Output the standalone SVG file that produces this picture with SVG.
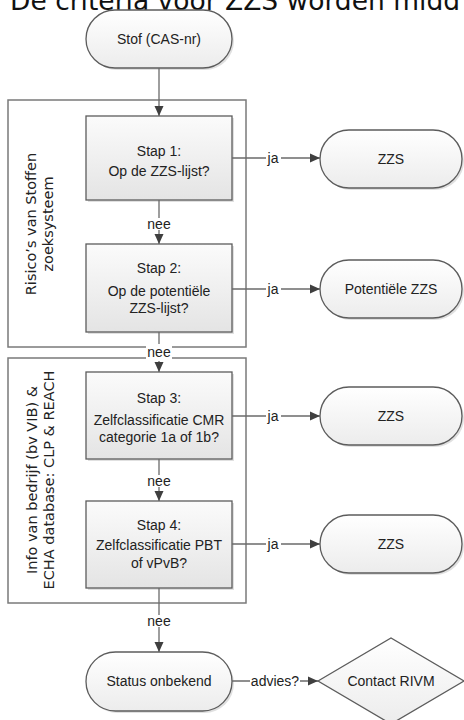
<svg xmlns="http://www.w3.org/2000/svg" width="464" height="720" viewBox="0 0 464 720">
<defs>
<linearGradient id="gBox" x1="0" y1="0" x2="0" y2="1">
<stop offset="0" stop-color="#fbfbfb"/>
<stop offset="1" stop-color="#e4e4e4"/>
</linearGradient>
<linearGradient id="gPill" x1="0" y1="0" x2="0" y2="1">
<stop offset="0" stop-color="#ffffff"/>
<stop offset="1" stop-color="#ececec"/>
</linearGradient>
<marker id="arr" markerUnits="userSpaceOnUse" markerWidth="10" markerHeight="10" viewBox="0 0 10 10" refX="10" refY="5" orient="auto">
<path d="M0,0.5 L10,5 L0,9.5 Z" fill="#3f3f3f"/>
</marker>
</defs>
<style>
.title{font-family:"DejaVu Sans",Verdana,sans-serif;font-size:26.5px;fill:#111}
.grp{fill:#ffffff;stroke:#7a7a7a;stroke-width:1.5}
.glab{font-family:"DejaVu Sans",Verdana,sans-serif;font-size:14.5px;fill:#222;text-anchor:middle}
.box{fill:url(#gBox);stroke:#5c5c5c;stroke-width:1.3}
.pill{fill:url(#gPill);stroke:#5c5c5c;stroke-width:1.3}
.shd{fill:#000;opacity:0.12}
.t{font-family:"Liberation Sans",Arial,sans-serif;font-size:14px;fill:#222;text-anchor:middle}
.lab{font-family:"Liberation Sans",Arial,sans-serif;font-size:14px;fill:#222;text-anchor:middle}
.ln{fill:none;stroke:#6a6a6a;stroke-width:1.3;marker-end:url(#arr)}
.bg{fill:#ffffff}
</style>

<text class="title" x="10" y="10">De criteria voor ZZS worden midd</text>

<g id="group-rvs">
<rect class="grp" x="8" y="100" width="238" height="247"/>
<text class="glab" transform="translate(36,224) rotate(-90)">Risico’s van Stoffen</text>
<text class="glab" transform="translate(53,224) rotate(-90)">zoeksysteem</text>
</g>
<g id="group-info">
<rect class="grp" x="8" y="358" width="238" height="245"/>
<text class="glab" transform="translate(37,480) rotate(-90)">Info van bedrijf (bv VIB) &amp;</text>
<text class="glab" transform="translate(54,480) rotate(-90)">ECHA database: CLP &amp; REACH</text>
</g>

<g id="start">
<rect class="shd" x="88" y="12" width="146" height="58" rx="29"/>
<rect class="pill" x="86" y="10" width="146" height="58" rx="29"/>
<text class="t" x="159" y="44">Stof (CAS-nr)</text>
</g>

<g id="stap1">
<rect class="shd" x="88" y="118" width="146" height="84"/>
<rect class="box" x="86" y="116" width="146" height="84"/>
<text class="t" x="159" y="156">Stap 1:</text>
<text class="t" x="159" y="176">Op de ZZS-lijst?</text>
</g>

<g id="stap2">
<rect class="shd" x="88" y="246" width="146" height="88"/>
<rect class="box" x="86" y="244" width="146" height="88"/>
<text class="t" x="159" y="273">Stap 2:</text>
<text class="t" x="159" y="296">Op de potentiële</text>
<text class="t" x="159" y="313">ZZS-lijst?</text>
</g>

<g id="stap3">
<rect class="shd" x="88" y="374" width="146" height="87"/>
<rect class="box" x="86" y="372" width="146" height="87"/>
<text class="t" x="159" y="403">Stap 3:</text>
<text class="t" x="159" y="425">Zelfclassificatie CMR</text>
<text class="t" x="159" y="442">categorie 1a of 1b?</text>
</g>

<g id="stap4">
<rect class="shd" x="88" y="503" width="146" height="87"/>
<rect class="box" x="86" y="501" width="146" height="87"/>
<text class="t" x="159" y="530">Stap 4:</text>
<text class="t" x="159" y="550">Zelfclassificatie PBT</text>
<text class="t" x="159" y="568">of vPvB?</text>
</g>

<g id="zzs1">
<rect class="shd" x="322" y="132" width="142" height="58" rx="29"/>
<rect class="pill" x="320" y="130" width="142" height="58" rx="29"/>
<text class="t" x="391" y="164">ZZS</text>
</g>

<g id="pot-zzs">
<rect class="shd" x="322" y="262" width="142" height="58" rx="29"/>
<rect class="pill" x="320" y="260" width="142" height="58" rx="29"/>
<text class="t" x="391" y="294">Potentiële ZZS</text>
</g>

<g id="zzs3">
<rect class="shd" x="322" y="389" width="142" height="58" rx="29"/>
<rect class="pill" x="320" y="387" width="142" height="58" rx="29"/>
<text class="t" x="391" y="421">ZZS</text>
</g>

<g id="zzs4">
<rect class="shd" x="322" y="517" width="142" height="58" rx="29"/>
<rect class="pill" x="320" y="515" width="142" height="58" rx="29"/>
<text class="t" x="391" y="549">ZZS</text>
</g>

<g id="status">
<rect class="shd" x="88" y="654" width="146" height="59" rx="29.5"/>
<rect class="pill" x="86" y="652" width="146" height="59" rx="29.5"/>
<text class="t" x="159" y="686">Status onbekend</text>
</g>

<g id="contact">
<path class="pill" d="M318,681 L391,638 L464,681 L391,724 Z"/>
<text class="t" x="391" y="686">Contact RIVM</text>
</g>

<g id="connectors">
<path class="ln" d="M159,68 L159,116"/>
<path class="ln" d="M232,158 L320,158"/>
<path class="ln" d="M159,200 L159,244"/>
<path class="ln" d="M232,289 L320,289"/>
<path class="ln" d="M159,332 L159,372"/>
<path class="ln" d="M232,416 L320,416"/>
<path class="ln" d="M159,459 L159,501"/>
<path class="ln" d="M232,544 L320,544"/>
<path class="ln" d="M159,588 L159,652"/>
<path class="ln" d="M232,681 L318,681"/>
<rect class="bg" x="266" y="151" width="15" height="8"/>
<text class="lab" x="273" y="163">ja</text>
<rect class="bg" x="266" y="282" width="15" height="8"/>
<text class="lab" x="273" y="294">ja</text>
<rect class="bg" x="266" y="409" width="15" height="8"/>
<text class="lab" x="273" y="421">ja</text>
<rect class="bg" x="266" y="537" width="15" height="8"/>
<text class="lab" x="273" y="549">ja</text>
<rect class="bg" x="146" y="218" width="26" height="12"/>
<text class="lab" x="159" y="229">nee</text>
<rect class="bg" x="146" y="344" width="26" height="17"/>
<text class="lab" x="159" y="357">nee</text>
<rect class="bg" x="146" y="475" width="26" height="12"/>
<text class="lab" x="159" y="486">nee</text>
<rect class="bg" x="146" y="615" width="26" height="12"/>
<text class="lab" x="159" y="626">nee</text>
<rect class="bg" x="250" y="674" width="50" height="12"/>
<text class="lab" x="275" y="686">advies?</text>
</g>
</svg>
